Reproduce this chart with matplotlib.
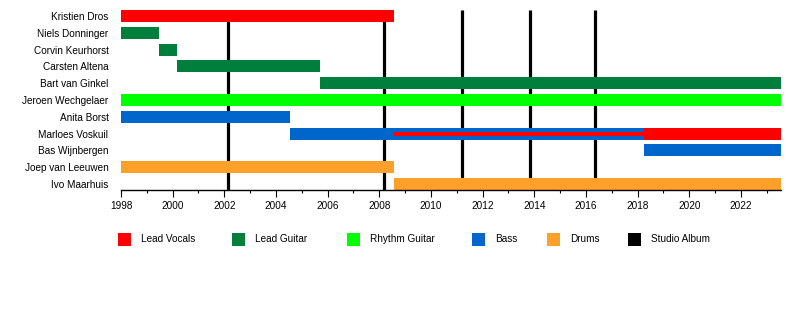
import matplotlib
matplotlib.use("Agg")
import matplotlib.pyplot as plt
from matplotlib.patches import Rectangle

plt.rcParams['font.family'] = ['Liberation Sans', 'DejaVu Sans']

members = ["Kristien Dros", "Niels Donninger", "Corvin Keurhorst", "Carsten Altena",
           "Bart van Ginkel", "Jeroen Wechgelaer", "Anita Borst", "Marloes Voskuil",
           "Bas Wijnbergen", "Joep van Leeuwen", "Ivo Maarhuis"]

END = 2023.55
# (member, role, start, end)
bar_member = ["Kristien Dros", "Niels Donninger", "Corvin Keurhorst", "Carsten Altena",
              "Bart van Ginkel", "Jeroen Wechgelaer", "Anita Borst", "Marloes Voskuil",
              "Marloes Voskuil", "Bas Wijnbergen", "Joep van Leeuwen", "Ivo Maarhuis"]
bar_role = ["Lead Vocals", "Lead Guitar", "Lead Guitar", "Lead Guitar",
            "Lead Guitar", "Rhythm Guitar", "Bass", "Bass",
            "Lead Vocals", "Bass", "Drums", "Drums"]
bar_start = [1998.0, 1998.0, 1999.47, 2000.17, 2005.7, 1998.0, 1998.0, 2004.54,
             2018.25, 2018.25, 1998.0, 2008.57]
bar_end = [2008.57, 1999.47, 2000.17, 2005.7, END, END, 2004.54, 2018.25,
           END, END, 2008.57, END]

# secondary (thin) role bars
thin_member = ["Marloes Voskuil"]
thin_role = ["Lead Vocals"]
thin_start = [2008.57]
thin_end = [2018.25]

albums = [2002.14, 2008.18, 2011.2, 2013.83, 2016.35]

roles = ["Lead Vocals", "Lead Guitar", "Rhythm Guitar", "Bass", "Drums", "Studio Album"]
role_colors = ["#FF0000", "#007F3C", "#00FF00", "#0066CC", "#FFA02A", "#000000"]
cmap = dict(zip(roles, role_colors))

fig = plt.figure(figsize=(8, 3.1), dpi=100)
ax = fig.add_axes([121/800, 1-190/310, (781-121)/800, (190-8)/310])

ypos = {m: i for i, m in enumerate(members)}
H = 0.71

# album lines (behind bars)
for a in albums:
    ax.plot([a, a], [-H/2, 10 + H/2], color="black", lw=2.3, zorder=1, solid_capstyle="butt")

for m, r, s, e in zip(bar_member, bar_role, bar_start, bar_end):
    ax.barh(ypos[m], e - s, left=s, height=H, color=cmap[r], zorder=2, linewidth=0)

for m, r, s, e in zip(thin_member, thin_role, thin_start, thin_end):
    ax.barh(ypos[m], e - s, left=s, height=0.24, color=cmap[r], zorder=3, linewidth=0)

ax.set_xlim(1998, END)
ax.set_ylim(10 + H/2, -0.48)
ax.set_yticks(range(len(members)))
ax.set_yticklabels(members, fontsize=7.2)
ax.tick_params(axis='y', length=0, pad=9)
ax.set_xticks(range(1998, 2023, 2))
ax.set_xticks(range(1998, 2024), minor=True)
ax.tick_params(axis='x', which='major', length=5, width=0.8, labelsize=7.2, pad=3)
ax.tick_params(axis='x', which='minor', length=2.5, width=0.8)
for s in ["top", "right", "left"]:
    ax.spines[s].set_visible(False)
ax.spines["bottom"].set_linewidth(1.0)
ax.spines["bottom"].set_zorder(4)

# legend
leg_x = [118, 232, 347, 472, 547, 628]
ly = 239
for x, r, c in zip(leg_x, roles, role_colors):
    fig.add_artist(Rectangle(((x)/800, 1-(ly+6.5)/310), 13/800, 13/310,
                             transform=fig.transFigure, color=c, lw=0))
    fig.text((x+23)/800, 1-ly/310, r, fontsize=7.2, va="center", ha="left")

fig.savefig("out.png", dpi=100)
